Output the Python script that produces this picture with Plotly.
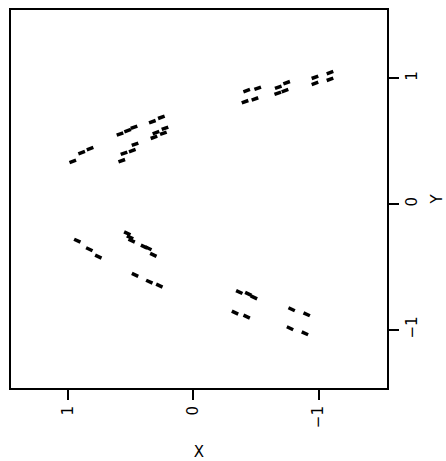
import plotly.graph_objects as go

# Upper branch points (X, Y)
x_upper = [0.962, 0.891, 0.824,
           0.585, 0.524, 0.473, 0.571, 0.553, 0.487, 0.465,
           0.327, 0.255, 0.314, 0.298, 0.239, 0.226,
           -0.426, -0.514, -0.413, -0.492,
           -0.678, -0.745, -0.674, -0.732,
           -0.971, -0.971, -1.091, -1.091]
y_upper = [0.339, 0.408, 0.440,
           0.556, 0.583, 0.610, 0.344, 0.403, 0.424, 0.475,
           0.654, 0.689, 0.530, 0.567, 0.562, 0.602,
           0.901, 0.920, 0.813, 0.835,
           0.928, 0.964, 0.880, 0.901,
           1.007, 0.959, 1.044, 0.991]

# Lower branch points (X, Y)
x_lower = [0.926, 0.830, 0.758,
           0.527, 0.505, 0.492, 0.393, 0.359, 0.319,
           0.465, 0.351, 0.271,
           -0.367, -0.439, -0.484, -0.333, -0.426,
           -0.785, -0.905, -0.772, -0.891]
y_lower = [-0.292, -0.360, -0.419,
           -0.233, -0.265, -0.292, -0.339, -0.352, -0.405,
           -0.564, -0.618, -0.649,
           -0.700, -0.715, -0.742, -0.864, -0.896,
           -0.837, -0.877, -0.988, -1.028]

x_ticks = [1, 0, -1]
x_tick_labels = ["1", "0", "−1"]
y_ticks = [1, 0, -1]
y_tick_labels = ["1", "0", "−1"]

fig = go.Figure()
fig.add_trace(go.Scatter(
    x=x_upper, y=y_upper, mode="markers",
    marker=dict(symbol="line-ew", size=5, angle=-20,
                line=dict(width=3.5, color="black")),
    showlegend=False))
fig.add_trace(go.Scatter(
    x=x_lower, y=y_lower, mode="markers",
    marker=dict(symbol="line-ew", size=5, angle=25,
                line=dict(width=3.5, color="black")),
    showlegend=False))

axis_common = dict(showgrid=False, zeroline=False, showline=True, mirror=True,
                   linecolor="black", linewidth=2, ticks="outside", ticklen=10,
                   tickwidth=2, tickcolor="black", tickangle=-90, automargin=False,
                   tickfont=dict(family="DejaVu Sans", size=15, color="black"))

fig.update_layout(
    width=446, height=461,
    margin=dict(l=11, r=59, t=10, b=73),
    paper_bgcolor="white", plot_bgcolor="white",
    xaxis=dict(range=[1.455, -1.546], tickvals=x_ticks, ticktext=x_tick_labels,
               title=dict(text="X", standoff=26,
                          font=dict(family="DejaVu Sans", size=15, color="black")),
               **axis_common),
    yaxis=dict(range=[-1.463, 1.542], side="right", tickvals=y_ticks,
               ticktext=y_tick_labels,
               title=dict(text="Y", standoff=19,
                          font=dict(family="DejaVu Sans", size=15, color="black")),
               **axis_common),
)

fig.write_html("out.html", config={"displayModeBar": False},
               post_script="document.body.style.margin='0';")
